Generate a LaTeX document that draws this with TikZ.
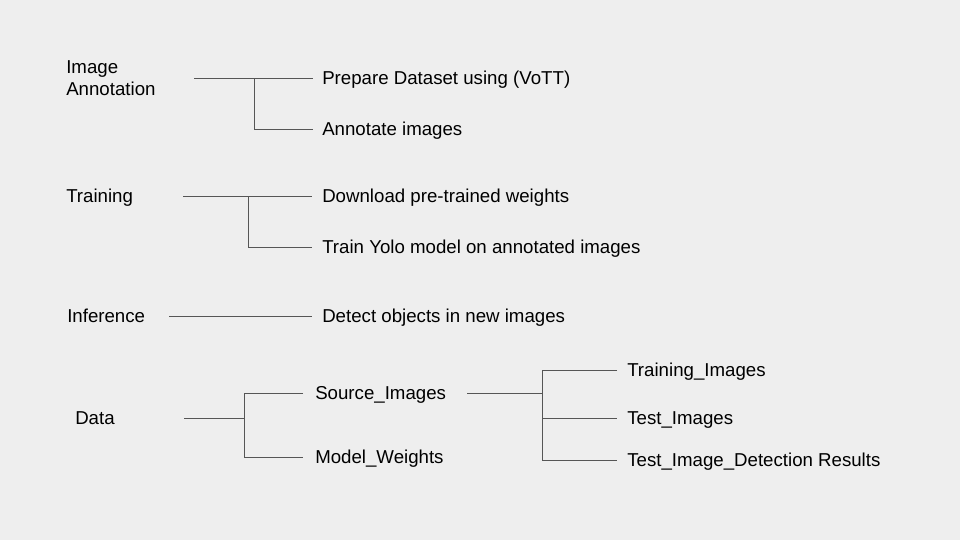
\documentclass[tikz,border=0pt]{standalone}
\usepackage{fontspec}
\setmainfont{Liberation Sans}
\definecolor{bg}{HTML}{EEEEEE}
\definecolor{ln}{HTML}{555555}
\begin{document}
\begin{tikzpicture}[x=0.75pt,y=-0.75pt,
  lbl/.style={anchor=base west,inner sep=0pt,font=\fontsize{14pt}{16.5pt}\selectfont,text=black,yshift=-5pt},
  conn/.style={draw=ln,line width=0.75pt}]
\fill[bg] (0,0) rectangle (960,540);
\useasboundingbox (0,0) rectangle (960,540);
% labels
\node[anchor=west,inner sep=0pt,font=\fontsize{14pt}{16.5pt}\selectfont,align=left] (ia) at (66,78) {Image\\Annotation};
\node[lbl] (prep) at (322,78) {Prepare Dataset using (VoTT)};
\node[lbl] (annot) at (322,129) {Annotate images};
\node[lbl] (train) at (66,196) {Training};
\node[lbl] (down) at (322,196) {Download pre-trained weights};
\node[lbl] (yolo) at (322,247) {Train Yolo model on annotated images};
\node[lbl] (inf) at (67,316) {Inference};
\node[lbl] (detect) at (322,316) {Detect objects in new images};
\node[lbl] (data) at (75,418) {Data};
\node[lbl] (src) at (315,393) {Source\_Images};
\node[lbl] (mw) at (315,457) {Model\_Weights};
\node[lbl] (ti) at (627,370) {Training\_Images};
\node[lbl] (tst) at (627,418) {Test\_Images};
\node[lbl] (tidr) at (627,460) {Test\_Image\_Detection Results};
% line end coordinates
\coordinate (ia0) at (194,78);
\coordinate (ia1) at (313,78);
\coordinate (iaj) at (254,78);
\coordinate (ia2) at (313,129);
\coordinate (tr0) at (183,196);
\coordinate (tr1) at (312,196);
\coordinate (trj) at (248,196);
\coordinate (tr2) at (312,247);
\coordinate (in0) at (169,316);
\coordinate (in1) at (312,316);
\coordinate (da0) at (184,418);
\coordinate (daj) at (244,418);
\coordinate (da1) at (303,393);
\coordinate (da2) at (303,457);
\coordinate (sr0) at (467,393);
\coordinate (srj) at (542,393);
\coordinate (sr1) at (617,370);
\coordinate (sr2) at (617,418);
\coordinate (sr3) at (617,460);
% connectors
\draw[conn] (ia0) -- (ia1);
\draw[conn] (iaj) |- (ia2);
\draw[conn] (tr0) -- (tr1);
\draw[conn] (trj) |- (tr2);
\draw[conn] (in0) -- (in1);
\draw[conn] (da0) -- (daj);
\draw[conn] (da1) -| (daj |- da2) -- (da2);
\draw[conn] (sr0) -- (srj);
\draw[conn] (sr1) -| (srj |- sr3) -- (sr3);
\draw[conn] (srj |- sr2) -- (sr2);
\end{tikzpicture}
\end{document}
